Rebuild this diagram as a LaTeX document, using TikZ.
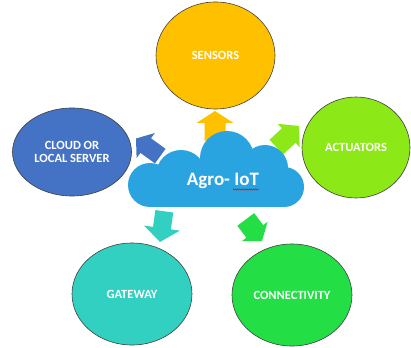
\documentclass[tikz,border=0pt]{standalone}
\usepackage{fontspec}
\setmainfont{Carlito}
\usetikzlibrary{shapes.geometric,decorations.pathmorphing}
\definecolor{sensc}{RGB}{255,192,0}
\definecolor{servc}{RGB}{68,114,196}
\definecolor{actc}{RGB}{140,232,22}
\definecolor{gatec}{RGB}{50,208,192}
\definecolor{conc}{RGB}{36,222,70}
\definecolor{cloudc}{RGB}{42,164,224}
% #1 colour, #2 tip, #3 angle, #4 length, #5 head length, #6 head width, #7 shaft width
\newcommand{\blockarrow}[7]{\fill[#1, shift={#2}, rotate=#3] (0,0) -- (-#5,#6/2) -- (-#5,#7/2) -- (-#4,#7/2) -- (-#4,-#7/2) -- (-#5,-#7/2) -- (-#5,-#6/2) -- cycle;}
\begin{document}
\begin{tikzpicture}[x=1pt,y=-1pt,
  bub/.style={ellipse, draw=black!75, line width=0.6pt, inner sep=0pt, text=white,
    font=\fontsize{12.5}{13.5}\selectfont\bfseries, align=center}]
\fill[white] (0,0) rectangle (411,347);
\useasboundingbox (0,0) rectangle (411,347);
% bubbles
\node[bub, fill=sensc, minimum width=119pt, minimum height=107pt] (sensors) at (215.5,55.5) {SENSORS};
\node[bub, fill=servc, minimum width=119pt, minimum height=88pt] (server) at (72,152) {CLOUD OR\\LOCAL SERVER};
\node[bub, fill=actc, minimum width=108pt, minimum height=101pt] (act) at (356,147.5) {ACTUATORS};
\node[bub, fill=gatec, minimum width=120pt, minimum height=102pt] (gate) at (132,294) {GATEWAY};
\node[bub, fill=conc, minimum width=120pt, minimum height=102pt] (conn) at (292,295) {CONNECTIVITY};
% block arrows
\blockarrow{sensc}{(215,111)}{90}{30}{12}{37}{21}
\blockarrow{servc}{(136,138.5)}{144}{30}{12}{31}{18}
\blockarrow{actc}{(299,126)}{43}{31}{14}{32}{20}
\blockarrow{gatec}{(160,242)}{-98}{31}{14}{36}{18}
\blockarrow{conc}{(262,241)}{-53}{27}{12}{32}{21}
% cloud
\begin{scope}[cloudc]
\fill (150,185) circle[radius=22pt];
\fill (181,175) circle[radius=25pt];
\fill (227,158) circle[radius=27pt];
\fill (265,168) circle[radius=23pt];
\fill (284,187) circle[radius=20pt];
\fill (150,178) rectangle (284,207);
\fill (200,165) rectangle (260,190);
\end{scope}
\node[text=white, inner sep=0pt, font=\fontsize{19}{20}\selectfont\bfseries] (lbl) at (223,181) {Agro- IoT};
\draw[red!85!black, line width=0.4pt, decorate, decoration={snake, amplitude=0.6pt, segment length=2pt}]
  (233,189.5) -- (259,189.5);
\end{tikzpicture}
\end{document}
